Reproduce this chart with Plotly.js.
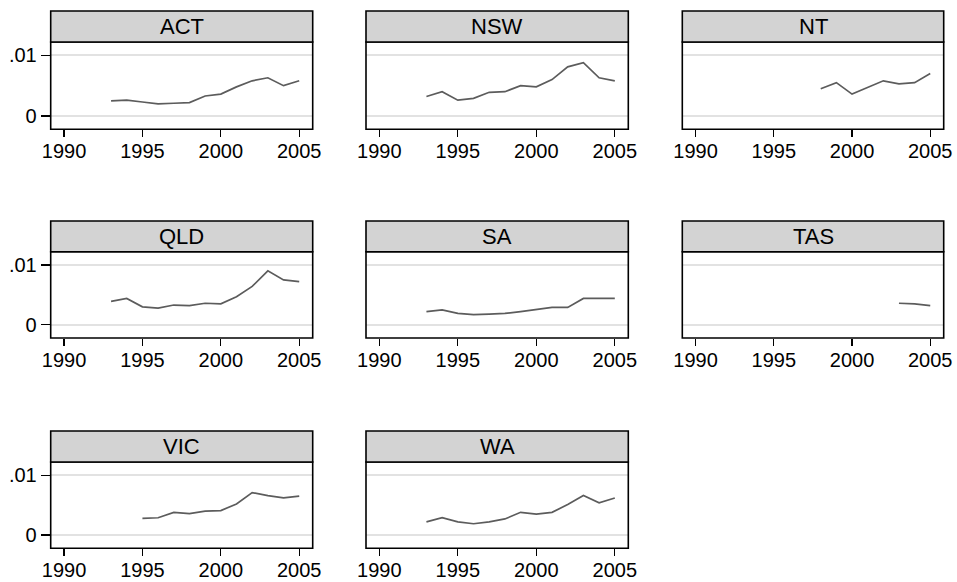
<!DOCTYPE html>
<html>
<head>
<meta charset="utf-8">
<script src="https://cdn.plot.ly/plotly-3.0.1.min.js"></script>
<style>html,body{margin:0;padding:0;background:#fff;}#chart{width:957px;height:582px;}</style>
</head>
<body>
<div id="chart"></div>
<script>
// ---- data ----
var years = [1993, 1994, 1995, 1996, 1997, 1998, 1999, 2000, 2001, 2002, 2003, 2004, 2005];
var states = ["ACT", "NSW", "NT", "QLD", "SA", "TAS", "VIC", "WA"];
var ACT = [0.0025, 0.0026, 0.0023, 0.0020, 0.0021, 0.0022, 0.0033, 0.0036, 0.0048, 0.0058, 0.0063, 0.0050, 0.0058];
var NSW = [0.0032, 0.0040, 0.0026, 0.0029, 0.0039, 0.0040, 0.0050, 0.0048, 0.0060, 0.0081, 0.0088, 0.0063, 0.0058];
var NT  = [null, null, null, null, null, 0.0045, 0.0055, 0.0036, 0.0047, 0.0058, 0.0053, 0.0055, 0.0070];
var QLD = [0.0039, 0.0044, 0.0030, 0.0028, 0.0033, 0.0032, 0.0036, 0.0035, 0.0047, 0.0064, 0.0090, 0.0075, 0.0072];
var SA  = [0.0022, 0.0025, 0.0019, 0.0017, 0.0018, 0.0019, 0.0022, 0.0026, 0.0029, 0.0029, 0.0044, 0.0044, 0.0044];
var TAS = [null, null, null, null, null, null, null, null, null, null, 0.0036, 0.0035, 0.0032];
var VIC = [null, null, 0.0028, 0.0029, 0.0038, 0.0036, 0.0040, 0.0041, 0.0052, 0.0071, 0.0066, 0.0062, 0.0065];
var WA  = [0.0022, 0.0029, 0.0022, 0.0019, 0.0022, 0.0027, 0.0038, 0.0035, 0.0038, 0.0051, 0.0066, 0.0054, 0.0062];
var seriesValues = [ACT, NSW, NT, QLD, SA, TAS, VIC, WA];
var xTickVals = [1990, 1995, 2000, 2005];
var xTickText = ["1990", "1995", "2000", "2005"];
var yTickVals = [0, 0.01];
var yTickText = ["0", ".01"];

// ---- layout geometry (pixels) ----
var W = 957, H = 582;
var colL = [50.7, 366, 682.3], colR = [312.7, 628.3, 943.7];
var headTop = [11, 221, 431], plotTop = [42, 251.7, 462], plotBot = [129.3, 338, 548.3];
var FONT = "Liberation Sans, Arial, Helvetica, sans-serif";

var traces = [], shapes = [], annotations = [];
var layout = {
  width: W, height: H, margin: {l: 0, r: 0, t: 0, b: 0},
  paper_bgcolor: "#ffffff", plot_bgcolor: "#ffffff",
  showlegend: false, font: {family: FONT, color: "#000", size: 20}
};

states.forEach(function (name, i) {
  var r = Math.floor(i / 3), c = i % 3;
  var suf = i === 0 ? "" : String(i + 1);
  traces.push({
    type: "scatter", mode: "lines", x: years, y: seriesValues[i],
    xaxis: "x" + suf, yaxis: "y" + suf,
    line: {color: "#5c5c5c", width: 1.7}, connectgaps: false, hoverinfo: "skip"
  });
  layout["xaxis" + suf] = {
    domain: [colL[c] / W, colR[c] / W], anchor: "y" + suf,
    range: [1989.15, 2005.86], tickmode: "array", tickvals: xTickVals, ticktext: xTickText,
    ticks: "outside", ticklen: 7, tickwidth: 1.3, tickcolor: "#000", ticklabelstandoff: -3,
    showgrid: false, zeroline: false, showline: false,
    tickfont: {family: FONT, size: 20, color: "#000"}, fixedrange: true
  };
  layout["yaxis" + suf] = {
    domain: [(H - plotBot[r]) / H, (H - plotTop[r]) / H], anchor: "x" + suf,
    range: [-0.0022, 0.0122], tickmode: "array", tickvals: yTickVals, ticktext: yTickText,
    ticks: c === 0 ? "outside" : "", ticklen: 9, tickwidth: 1.3, tickcolor: "#000",
    showticklabels: c === 0, showgrid: true, gridcolor: "#e2e2e2", gridwidth: 1.7,
    zeroline: false, showline: false,
    tickfont: {family: FONT, size: 20, color: "#000"}, fixedrange: true
  };
  // plot frame
  shapes.push({type: "rect", xref: "paper", yref: "paper", layer: "above",
    x0: colL[c] / W, x1: colR[c] / W, y0: (H - plotBot[r]) / H, y1: (H - plotTop[r]) / H,
    line: {color: "#000", width: 1.6}, fillcolor: "rgba(0,0,0,0)"});
  // header strip
  shapes.push({type: "rect", xref: "paper", yref: "paper", layer: "above",
    x0: colL[c] / W, x1: colR[c] / W, y0: (H - plotTop[r]) / H, y1: (H - headTop[r]) / H,
    line: {color: "#000", width: 1.6}, fillcolor: "#d3d3d3"});
  annotations.push({xref: "paper", yref: "paper", showarrow: false,
    x: (colL[c] + colR[c]) / 2 / W, y: (H - (headTop[r] + plotTop[r]) / 2) / H,
    xanchor: "center", yanchor: "middle", text: name,
    font: {family: FONT, size: 22, color: "#000"}});
});
layout.shapes = shapes;
layout.annotations = annotations;

Plotly.newPlot("chart", traces, layout, {displayModeBar: false, staticPlot: true});
</script>
</body>
</html>
